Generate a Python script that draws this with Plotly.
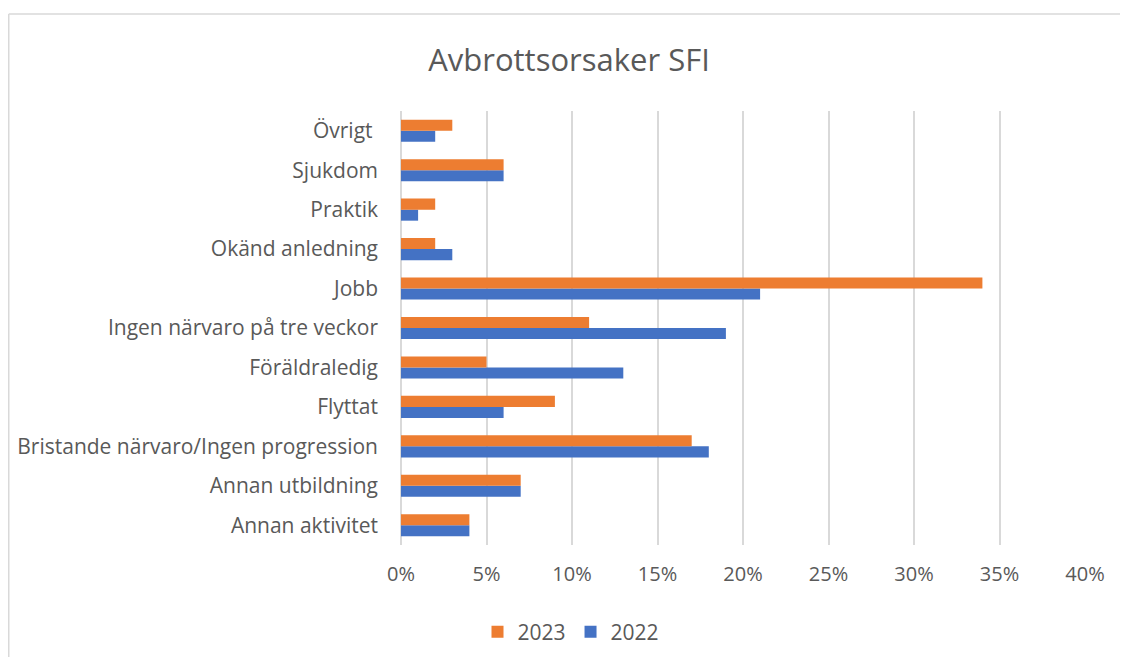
import plotly.graph_objects as go

categories = ["Annan aktivitet", "Annan utbildning", "Bristande närvaro/Ingen progression",
              "Flyttat", "Föräldraledig", "Ingen närvaro på tre veckor", "Jobb",
              "Okänd anledning", "Praktik", "Sjukdom", "Övrigt "]
v2022 = [4, 7, 18, 6, 13, 19, 21, 3, 1, 6, 2]
v2023 = [4, 7, 17, 9, 5, 11, 34, 2, 2, 6, 3]
xticks = [0, 5, 10, 15, 20, 25, 30, 35, 40]
xticklabels = [f"{t}%" for t in xticks]

OFF = 8  # page body margin
W, H = 1128 - OFF, 657 - OFF
TOP, BOT = 111, 545
L, R, T, B = 401 - OFF, 1128 - 1085, TOP - OFF, 657 - BOT
pw, ph = W - L - R, H - T - B

fig = go.Figure()
fig.add_trace(go.Bar(y=categories, x=v2022, name="2022", orientation="h",
                     marker=dict(color="#4472C4", line=dict(width=0))))
fig.add_trace(go.Bar(y=categories, x=v2023, name="2023", orientation="h",
                     marker=dict(color="#ED7D31", line=dict(width=0))))

font = "'Open Sans', sans-serif"
fig.update_layout(
    width=W, height=H,
    margin=dict(l=L, r=R, t=T, b=B, autoexpand=False),
    paper_bgcolor="white", plot_bgcolor="white",
    barmode="group", bargap=0.44, bargroupgap=0,
    title=dict(text="Avbrottsorsaker SFI", x=(569 - OFF) / W, xanchor="center",
               y=1 - (60 - OFF) / H, yanchor="middle",
               font=dict(family=font, size=31, color="#595959")),
    font=dict(family=font, size=19, color="#595959"),
    showlegend=True,
    legend=dict(orientation="h", x=(571 - OFF - L) / pw, xanchor="center",
                y=-(632 - BOT) / ph, yanchor="middle", traceorder="reversed",
                font=dict(family=font, size=21, color="#595959"),
                itemwidth=30),
    xaxis=dict(range=[0, 40], tickvals=xticks, ticktext=xticklabels,
               showgrid=True, gridcolor="#d9d9d9", gridwidth=1.5,
               zeroline=True, zerolinecolor="#d9d9d9", zerolinewidth=1.5,
               showline=False, ticks="", ticklabelstandoff=15,
               tickfont=dict(family=font, size=20, color="#595959")),
    yaxis=dict(showgrid=False, showline=False, ticks="", ticklabelstandoff=22,
               tickfont=dict(family=font, size=21, color="#595959")),
    shapes=[
        dict(type="line", xref="paper", yref="paper",
             x0=(0.75 - L) / pw, x1=(W + 20 - L) / pw,
             y0=1 + (TOP - 14) / ph, y1=1 + (TOP - 14) / ph,
             line=dict(color="#d9d9d9", width=1.5)),
        dict(type="line", xref="paper", yref="paper",
             x0=(0.75 - L) / pw, x1=(0.75 - L) / pw,
             y0=1 + (TOP - 14) / ph, y1=-(690 - BOT) / ph,
             line=dict(color="#d9d9d9", width=1.5)),
    ],
)

fig.write_html("out.html")
